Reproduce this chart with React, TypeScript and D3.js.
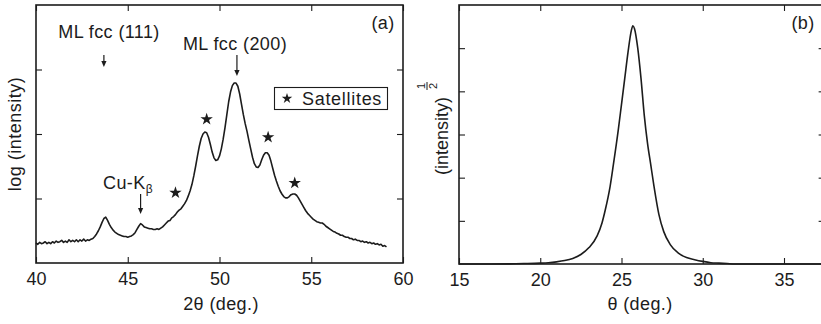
import React, { useEffect, useRef } from "react";
import * as d3 from "d3";

// Panel (a): X-ray diffraction scan, 2θ (deg.) vs log intensity (arb. units)
const scanTwoTheta: number[] = [
  40.0, 40.1, 40.2, 40.3, 40.4, 40.5, 40.6, 40.7, 40.8, 40.9,
  41.0, 41.1, 41.2, 41.3, 41.4, 41.5, 41.6, 41.7, 41.8, 41.9,
  42.0, 42.1, 42.2, 42.3, 42.4, 42.5, 42.6, 42.7, 42.8, 42.9,
  43.0, 43.1, 43.2, 43.3, 43.4, 43.5, 43.6, 43.7, 43.8, 43.9,
  44.0, 44.1, 44.2, 44.3, 44.4, 44.5, 44.6, 44.7, 44.8, 44.9,
  45.0, 45.1, 45.2, 45.3, 45.4, 45.5, 45.6, 45.7, 45.8, 45.9,
  46.0, 46.1, 46.2, 46.3, 46.4, 46.5, 46.6, 46.7, 46.8, 46.9,
  47.0, 47.1, 47.2, 47.3, 47.4, 47.5, 47.6, 47.7, 47.8, 47.9,
  48.0, 48.1, 48.2, 48.3, 48.4, 48.5, 48.6, 48.7, 48.8, 48.9,
  49.0, 49.1, 49.2, 49.3, 49.4, 49.5, 49.6, 49.7, 49.8, 49.9,
  50.0, 50.1, 50.2, 50.3, 50.4, 50.5, 50.6, 50.7, 50.8, 50.9,
  51.0, 51.1, 51.2, 51.3, 51.4, 51.5, 51.6, 51.7, 51.8, 51.9,
  52.0, 52.1, 52.2, 52.3, 52.4, 52.5, 52.6, 52.7, 52.8, 52.9,
  53.0, 53.1, 53.2, 53.3, 53.4, 53.5, 53.6, 53.7, 53.8, 53.9,
  54.0, 54.1, 54.2, 54.3, 54.4, 54.5, 54.6, 54.7, 54.8, 54.9,
  55.0, 55.1, 55.2, 55.3, 55.4, 55.5, 55.6, 55.7, 55.8, 55.9,
  56.0, 56.1, 56.2, 56.3, 56.4, 56.5, 56.6, 56.7, 56.8, 56.9,
  57.0, 57.1, 57.2, 57.3, 57.4, 57.5, 57.6, 57.7, 57.8, 57.9,
  58.0, 58.1, 58.2, 58.3, 58.4, 58.5, 58.6, 58.7, 58.8, 58.9,
  59.0, 59.1,
];
const scanLogIntensity: number[] = [
  0.31, 0.29, 0.32, 0.30, 0.31, 0.33, 0.30, 0.32, 0.30, 0.33,
  0.31, 0.34, 0.32, 0.33, 0.35, 0.32, 0.34, 0.32, 0.36, 0.33,
  0.35, 0.33, 0.36, 0.33, 0.36, 0.34, 0.37, 0.34, 0.36, 0.35,
  0.37, 0.38, 0.41, 0.45, 0.50, 0.56, 0.63, 0.69, 0.71, 0.66,
  0.60, 0.55, 0.51, 0.48, 0.46, 0.44, 0.43, 0.42, 0.41, 0.41,
  0.40, 0.41, 0.42, 0.44, 0.47, 0.52, 0.57, 0.61, 0.59, 0.56,
  0.55, 0.54, 0.53, 0.53, 0.52, 0.52, 0.53, 0.52, 0.54, 0.56,
  0.59, 0.62, 0.65, 0.66, 0.70, 0.72, 0.75, 0.79, 0.82, 0.84,
  0.88, 0.92, 0.97, 1.04, 1.12, 1.22, 1.35, 1.50, 1.66, 1.81,
  1.93, 2.00, 2.03, 2.02, 1.95, 1.84, 1.72, 1.63, 1.59, 1.60,
  1.66, 1.77, 1.92, 2.10, 2.30, 2.50, 2.65, 2.75, 2.79, 2.79,
  2.74, 2.62, 2.46, 2.30, 2.16, 2.04, 1.90, 1.77, 1.64, 1.54,
  1.49, 1.48, 1.52, 1.60, 1.67, 1.71, 1.71, 1.67, 1.58, 1.47,
  1.36, 1.27, 1.19, 1.12, 1.07, 1.03, 1.01, 1.01, 1.03, 1.06,
  1.07, 1.07, 1.05, 1.01, 0.96, 0.91, 0.86, 0.81, 0.77, 0.74,
  0.71, 0.68, 0.66, 0.64, 0.63, 0.62, 0.62, 0.60, 0.57, 0.55,
  0.53, 0.51, 0.49, 0.48, 0.46, 0.45, 0.43, 0.43, 0.41, 0.40,
  0.40, 0.38, 0.38, 0.36, 0.37, 0.35, 0.35, 0.33, 0.34, 0.32,
  0.33, 0.31, 0.32, 0.30, 0.31, 0.29, 0.30, 0.28, 0.29, 0.26,
  0.27, 0.25,
];

// Satellite peak markers (2θ, log intensity)
const satelliteTwoTheta: number[] = [47.6, 49.3, 52.65, 54.1];
const satelliteLevel: number[] = [1.09, 2.23, 1.95, 1.24];

// Panel (b): rocking curve, θ (deg.) vs sqrt(intensity)
const rockTheta: number[] = [
  15.0, 17.0, 19.0, 20.0, 20.5, 21.0, 21.5, 22.0, 22.5, 23.0,
  23.5, 23.8, 24.0, 24.3, 24.5, 24.8, 25.0, 25.2, 25.4, 25.6,
  25.7, 25.8, 26.0, 26.2, 26.4, 26.6, 26.8, 27.0, 27.3, 27.6,
  28.0, 28.5, 29.0, 29.5, 30.0, 30.5, 31.0, 31.5, 32.0, 37.5,
];
const rockSqrtIntensity: number[] = [
  0.0, 0.0, 0.01, 0.02, 0.03, 0.05, 0.08, 0.13, 0.22, 0.38,
  0.65, 0.95, 1.25, 1.8, 2.3, 3.1, 3.7, 4.3, 4.9, 5.4,
  5.52, 5.45, 5.0, 4.3, 3.45, 2.8, 2.3, 1.8, 1.15, 0.75,
  0.45, 0.25, 0.15, 0.1, 0.06, 0.03, 0.02, 0.01, 0.0, 0.0,
];

const xTicksA: number[] = [40, 45, 50, 55, 60];
const yTicksA: number[] = [1, 2, 3];
const xTicksB: number[] = [15, 20, 25, 30, 35];
const yTicksB: number[] = [1, 2, 3, 4, 5];

const FONT = "'Liberation Sans', Arial, Helvetica, sans-serif";
const INK = "#1c1c1c";

export default function App() {
  const ref = useRef<SVGSVGElement | null>(null);

  useEffect(() => {
    const svg = d3.select(ref.current);
    svg.selectAll("*").remove();

    const top = 5;

    // ---------- panel (a) ----------
    const aLeft = 36, aRight = 403, aBottom = 263;
    const xA = d3.scaleLinear().domain([40, 60]).range([aLeft, aRight]);
    const yA = d3.scaleLinear().domain([0, 4]).range([aBottom, top]);

    // ---------- panel (b) ----------
    const bLeft = 459, bBottom = 264;
    const xB = d3.scaleLinear().domain([15, 37.5]).range([bLeft, bLeft + 22.5 * 16.25]);
    const yB = d3.scaleLinear().domain([0, 6]).range([bBottom, top]);

    const drawFrame = (
      x: d3.ScaleLinear<number, number>,
      y: d3.ScaleLinear<number, number>,
      xt: number[],
      yt: number[]
    ) => {
      const [x0, x1] = x.range();
      const [y0, y1] = y.range();
      const g = svg.append("g");
      const style = (sel: any) => {
        sel.select(".domain").remove();
        sel.selectAll("line").attr("stroke", INK).attr("stroke-width", 1.1);
        sel.selectAll("text").attr("font-family", FONT).attr("font-size", 18).attr("fill", INK);
      };
      g.append("g").attr("transform", `translate(0,${y0})`)
        .call(d3.axisBottom(x).tickValues(xt).tickSizeInner(-6).tickSizeOuter(0).tickPadding(9).tickFormat(d3.format("d")))
        .call(style);
      g.append("g").attr("transform", `translate(0,${y1})`)
        .call(d3.axisTop(x).tickValues(xt).tickSizeInner(-6).tickSizeOuter(0).tickFormat(() => ""))
        .call(style);
      g.append("g").attr("transform", `translate(${x0},0)`)
        .call(d3.axisLeft(y).tickValues(yt).tickSizeInner(-6).tickSizeOuter(0).tickFormat(() => ""))
        .call(style);
      g.append("g").attr("transform", `translate(${x1},0)`)
        .call(d3.axisRight(y).tickValues(yt).tickSizeInner(-6).tickSizeOuter(0).tickFormat(() => ""))
        .call(style);
      g.append("rect")
        .attr("x", x0).attr("y", y1)
        .attr("width", x1 - x0).attr("height", y0 - y1)
        .attr("fill", "none").attr("stroke", INK).attr("stroke-width", 1.6);
    };

    drawFrame(xA, yA, xTicksA, yTicksA);
    drawFrame(xB, yB, xTicksB, yTicksB);

    // curves
    const lineA = d3.line<number>()
      .x((_, i) => xA(scanTwoTheta[i]))
      .y((v) => yA(v))
      .curve(d3.curveLinear);
    svg.append("path")
      .attr("d", lineA(scanLogIntensity))
      .attr("fill", "none").attr("stroke", INK).attr("stroke-width", 1.6)
      .attr("stroke-linejoin", "round");

    const lineB = d3.line<number>()
      .x((_, i) => xB(rockTheta[i]))
      .y((v) => yB(v))
      .curve(d3.curveMonotoneX);
    svg.append("path")
      .attr("d", lineB(rockSqrtIntensity))
      .attr("fill", "none").attr("stroke", INK).attr("stroke-width", 1.6);

    // satellite stars
    const star = d3.symbol().type(d3.symbolStar).size(48);
    satelliteTwoTheta.forEach((t, i) => {
      svg.append("path")
        .attr("d", star())
        .attr("transform", `translate(${xA(t)},${yA(satelliteLevel[i])})`)
        .attr("fill", INK);
    });

    // arrows
    const arrow = (x: number, y0: number, y1: number) => {
      svg.append("line")
        .attr("x1", x).attr("x2", x).attr("y1", y0).attr("y2", y1 - 4)
        .attr("stroke", INK).attr("stroke-width", 1.2);
      svg.append("path")
        .attr("d", `M${x - 2.6},${y1 - 6} L${x + 2.6},${y1 - 6} L${x},${y1} Z`)
        .attr("fill", INK);
    };
    arrow(xA(43.7), 55, 67);
    arrow(xA(50.95), 55, 76);
    arrow(xA(45.7), 194, 214);

    const text = (x: number, y: number, s: string, anchor = "middle", size = 18) =>
      svg.append("text")
        .attr("x", x).attr("y", y)
        .attr("text-anchor", anchor)
        .attr("font-family", FONT).attr("font-size", size)
        .attr("letter-spacing", 0.4)
        .attr("fill", INK)
        .text(s);

    text(109, 38, "ML fcc (111)");
    text(235, 50, "ML fcc (200)");
    text(383, 29, "(a)");
    text(803, 29, "(b)");

    const cu = text(103, 189, "Cu-K", "start");
    cu.append("tspan").attr("font-size", 12).attr("dy", 4).text("β");

    // legend box
    svg.append("rect")
      .attr("x", 274.5).attr("y", 87.5).attr("width", 113).attr("height", 22)
      .attr("fill", "none").attr("stroke", INK).attr("stroke-width", 1.1);
    svg.append("path")
      .attr("d", d3.symbol().type(d3.symbolStar).size(34)())
      .attr("transform", "translate(287,98.5)")
      .attr("fill", INK);
    text(302, 105, "Satellites", "start").attr("letter-spacing", 0.7);

    // axis titles
    text(221, 310, "2θ (deg.)");
    text(640, 310, "θ (deg.)");

    svg.append("text")
      .attr("transform", "translate(21,134) rotate(-90)")
      .attr("text-anchor", "middle")
      .attr("font-family", FONT).attr("font-size", 18)
      .attr("letter-spacing", 0.5)
      .attr("fill", INK)
      .text("log (intensity)");

    const gy = svg.append("g").attr("transform", "translate(448,136) rotate(-90)");
    gy.append("text")
      .attr("text-anchor", "middle")
      .attr("font-family", FONT).attr("font-size", 18)
      .attr("fill", INK)
      .text("(intensity)");
    gy.append("text")
      .attr("x", 50).attr("y", -23)
      .attr("text-anchor", "middle")
      .attr("font-family", FONT).attr("font-size", 11)
      .attr("fill", INK)
      .text("1");
    gy.append("line")
      .attr("x1", 46).attr("x2", 54).attr("y1", -21).attr("y2", -21)
      .attr("stroke", INK).attr("stroke-width", 1);
    gy.append("text")
      .attr("x", 50).attr("y", -11.5)
      .attr("text-anchor", "middle")
      .attr("font-family", FONT).attr("font-size", 11)
      .attr("fill", INK)
      .text("2");
  }, []);

  return (
    <svg
      ref={ref}
      width={821}
      height={324}
      style={{ position: "absolute", left: 0, top: 0, background: "#fff" }}
    />
  );
}
